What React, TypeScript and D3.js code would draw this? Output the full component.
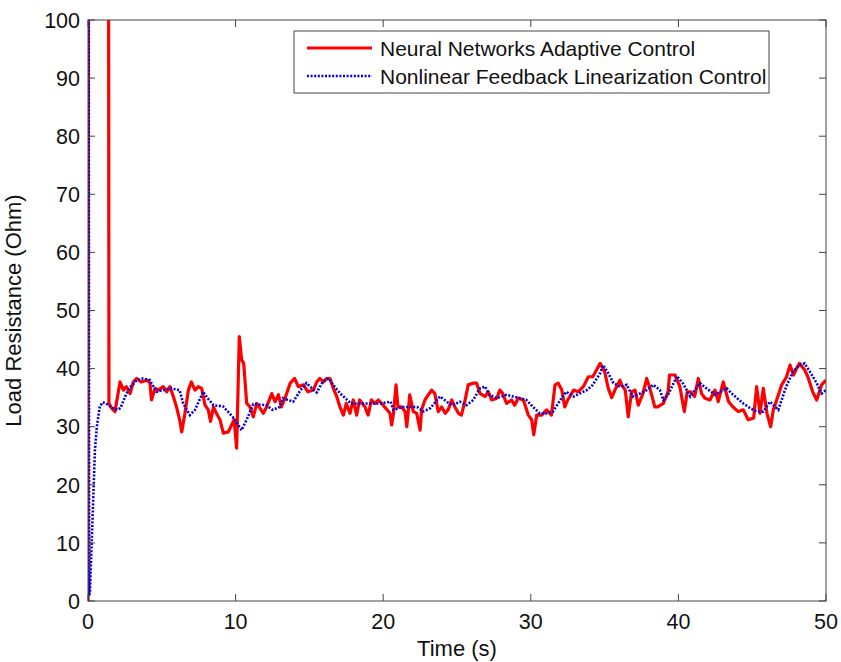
import React, { useMemo } from 'react';
import * as d3 from 'd3';

// Neural Networks Adaptive Control (red, solid)
const nnTime = [
  0, 0.05, 1.38, 1.42, 1.6, 1.83, 2.17, 2.4, 2.6, 2.85, 3.07, 3.3, 3.6, 4.0, 4.2, 4.3, 4.55, 4.77,
  5.1, 5.33, 5.55, 5.78, 6.0, 6.23, 6.35, 6.57, 6.8, 7.0, 7.25, 7.47, 7.7, 7.93, 8.15, 8.3, 8.5,
  8.7, 8.94, 9.17, 9.5, 9.73, 9.9, 10.07, 10.25, 10.41, 10.55, 10.75, 10.98, 11.2, 11.43, 11.65,
  11.88, 12.1, 12.45, 12.67, 12.9, 13.1, 13.35, 13.7, 14.0, 14.25, 14.6, 14.9, 15.26, 15.5, 15.7,
  15.94, 16.17, 16.4, 16.62, 16.85, 17.07, 17.3, 17.5, 17.75, 17.97, 18.2, 18.4, 18.77, 18.98,
  19.2, 19.45, 19.67, 20.0, 20.46, 20.57, 20.7, 20.87, 21.0, 21.25, 21.48, 21.6, 21.8, 22.04,
  22.27, 22.5, 22.6, 22.83, 23.06, 23.28, 23.5, 23.73, 23.96, 24.2, 24.4, 24.64, 24.86, 25.1,
  25.3, 25.5, 25.76, 26.1, 26.33, 26.56, 26.9, 27.12, 27.35, 27.7, 27.9, 28.1, 28.36, 28.7, 28.9,
  29.15, 29.5, 29.83, 30.06, 30.2, 30.4, 30.74, 31.07, 31.4, 31.64, 31.86, 32.1, 32.3, 32.5,
  32.9, 33.2, 33.56, 33.9, 34.2, 34.46, 34.7, 35.0, 35.25, 35.48, 35.7, 36.04, 36.15, 36.4, 36.6,
  36.83, 37.06, 37.28, 37.6, 37.85, 38.07, 38.4, 38.6, 38.98, 39.3, 39.4, 39.77, 40.1, 40.4,
  40.6, 40.83, 41.1, 41.35, 41.57, 41.8, 42.14, 42.48, 42.7, 43.04, 43.4, 43.7, 44.06, 44.4,
  44.73, 45.1, 45.3, 45.53, 45.75, 46.0, 46.25, 46.43, 46.66, 47.0, 47.33, 47.56, 47.8, 48.0,
  48.2, 48.55, 48.77, 49.1, 49.37, 49.7, 50.0,
];
const nnValues = [
  0, 150, 150, 34.0, 33.2, 32.6, 37.7, 36.3, 36.9, 35.7, 37.7, 38.3, 37.7, 38.0, 37.5, 34.6, 36.6,
  36.3, 36.9, 36.0, 36.9, 35.2, 33.4, 30.9, 29.1, 32.3, 36.3, 37.7, 36.3, 36.9, 36.6, 33.7, 32.9,
  30.9, 33.4, 32.3, 31.2, 28.9, 29.1, 30.3, 31.2, 26.3, 45.5, 41.5, 40.9, 34.0, 33.4, 31.7, 34.0,
  33.2, 32.3, 33.4, 35.7, 34.3, 35.5, 33.4, 34.9, 37.5, 38.3, 36.9, 37.2, 36.0, 36.3, 37.7, 38.3,
  37.7, 38.3, 38.3, 36.6, 35.2, 33.4, 32.0, 34.0, 32.3, 34.6, 32.0, 34.6, 33.4, 32.0, 34.6, 34.0,
  34.6, 33.7, 32.3, 30.3, 32.3, 37.2, 33.4, 33.4, 32.6, 30.0, 35.5, 32.6, 32.3, 29.4, 32.9, 34.6,
  35.5, 36.3, 35.7, 32.6, 33.4, 32.3, 32.9, 34.6, 33.4, 32.3, 32.0, 34.0, 37.2, 37.5, 37.5, 35.7,
  35.2, 36.0, 34.6, 34.9, 36.3, 35.7, 34.0, 34.6, 33.7, 34.9, 34.6, 32.0, 31.2, 28.6, 32.0, 32.0,
  32.9, 32.0, 37.2, 37.5, 36.3, 33.4, 34.6, 36.3, 36.0, 36.9, 38.6, 38.6, 39.8, 40.9, 39.5, 36.6,
  35.0, 36.3, 38.0, 37.2, 36.3, 31.7, 36.0, 36.3, 33.7, 35.7, 38.3, 36.6, 33.4, 33.4, 34.0, 36.0,
  38.9, 38.9, 36.9, 32.6, 36.0, 36.0, 35.2, 38.3, 35.7, 34.9, 34.6, 36.3, 34.3, 37.7, 34.3, 33.4,
  32.6, 32.9, 31.2, 31.5, 36.9, 32.3, 36.6, 32.3, 30.0, 32.9, 34.6, 37.2, 38.6, 40.6, 38.9, 40.0,
  40.9, 39.8, 38.6, 36.0, 34.6, 37.2, 38.0,
];

// Nonlinear Feedback Linearization Control (blue, dotted)
const nflTime = [
  0, 0.04, 0.08, 0.13, 0.25, 0.47, 0.6, 0.8, 1.0, 1.2, 1.4, 1.7, 2.0, 2.2, 2.6, 2.9, 3.3, 3.7,
  4.2, 4.3, 4.65, 5.1, 5.6, 6.2, 6.45, 6.9, 7.25, 7.8, 8.1, 8.5, 9.15, 9.8, 10.4, 10.75, 11.2,
  12.1, 12.5, 13.0, 13.2, 13.9, 14.4, 14.8, 15.3, 15.5, 15.9, 16.3, 16.6, 17.1, 17.8, 18.6, 19.8,
  20.5, 20.7, 21.3, 22.3, 22.7, 23.2, 23.85, 24.3, 24.7, 25.2, 25.65, 26.1, 26.55, 26.9, 27.2,
  27.7, 28.36, 28.8, 29.3, 29.7, 30.15, 30.6, 31.07, 31.5, 32.0, 32.4, 32.9, 33.3, 33.8, 34.2,
  34.7, 34.9, 35.25, 35.6, 36.04, 36.5, 36.9, 37.4, 37.85, 38.3, 38.75, 38.98, 39.3, 39.9, 40.3,
  40.8, 41.46, 41.9, 42.5, 43.27, 43.7, 44.4, 44.85, 45.3, 45.75, 46.2, 46.77, 47.3, 47.77, 48.2,
  48.55, 48.9, 49.37, 49.7, 50.0,
];
const nflValues = [
  0, 130, 1, 1.4, 10, 26, 30, 33.5, 34.2, 34.0, 33.7, 33.2, 32.9, 33.2, 35.7, 36.9, 38.0, 38.3,
  38.0, 37.5, 36.0, 36.3, 36.6, 36.3, 34.0, 32.0, 32.9, 36.0, 34.9, 33.7, 33.5, 31.7, 29.4, 31.2,
  33.9, 33.7, 32.9, 33.4, 34.9, 34.3, 36.3, 37.5, 36.3, 35.9, 37.7, 38.3, 37.2, 35.7, 34.0, 34.0,
  34.0, 34.3, 32.9, 33.4, 33.4, 32.6, 33.2, 35.2, 34.3, 33.7, 34.3, 33.7, 34.6, 36.6, 36.9, 35.5,
  34.9, 35.5, 35.2, 34.9, 34.6, 33.4, 32.3, 32.3, 32.6, 34.6, 36.0, 35.2, 35.7, 36.3, 37.2, 39.2,
  40.6, 39.2, 37.5, 36.9, 37.2, 35.2, 35.7, 36.3, 37.2, 36.3, 34.6, 35.5, 38.7, 37.5, 35.2, 37.5,
  36.6, 35.5, 36.6, 35.5, 34.0, 33.2, 32.6, 32.6, 34.3, 32.9, 36.9, 39.5, 40.6, 40.9, 39.5, 37.5,
  35.7, 36.3,
];

const xTicks = [0, 10, 20, 30, 40, 50];
const yTicks = [0, 10, 20, 30, 40, 50, 60, 70, 80, 90, 100];
const seriesNames = ['Neural Networks Adaptive Control', 'Nonlinear Feedback Linearization Control'];

const W = 841;
const H = 662;
const margin = { top: 20, right: 15, bottom: 61, left: 88 };
const FONT = '"Liberation Sans", Arial, sans-serif';

export default function App() {
  const innerW = W - margin.left - margin.right;
  const innerH = H - margin.top - margin.bottom;

  const { x, y, nnPath, nflPath } = useMemo(() => {
    const xs = d3.scaleLinear().domain([0, 50]).range([0, innerW]);
    const ys = d3.scaleLinear().domain([0, 100]).range([innerH, 0]);
    const line = d3
      .line<number>()
      .x((d) => xs(d[0]))
      .y((d) => ys(d[1]));
    const nn = line(nnTime.map((t, i) => [t, nnValues[i]]) as any);
    const nfl = line(nflTime.map((t, i) => [t, nflValues[i]]) as any);
    return { x: xs, y: ys, nnPath: nn, nflPath: nfl };
  }, [innerW, innerH]);

  const tickLen = 7;
  const axisColor = '#444';

  return (
    <svg
      width={W}
      height={H}
      style={{ position: 'absolute', left: 0, top: 0, background: '#fff' }}
      fontFamily={FONT}
    >
      <defs>
        <clipPath id="plot-clip">
          <rect x={0} y={0} width={innerW} height={innerH} />
        </clipPath>
      </defs>
      <g transform={`translate(${margin.left},${margin.top})`}>
        {/* series */}
        <g clipPath="url(#plot-clip)">
          <path d={nnPath || ''} fill="none" stroke="#ff0000" strokeWidth={3.2} strokeLinejoin="round" />
          <path
            d={nflPath || ''}
            fill="none"
            stroke="#0000dd"
            strokeWidth={2.6}
            strokeDasharray="2 1.6"
          />
        </g>

        {/* box */}
        <rect x={0} y={0} width={innerW} height={innerH} fill="none" stroke={axisColor} strokeWidth={1} />

        {/* x ticks */}
        {xTicks.map((t) => (
          <g key={'x' + t}>
            <line x1={x(t)} x2={x(t)} y1={innerH} y2={innerH - tickLen} stroke={axisColor} />
            <line x1={x(t)} x2={x(t)} y1={0} y2={tickLen} stroke={axisColor} />
            <text x={x(t)} y={innerH + 28} textAnchor="middle" fontSize={21.5} fill="#111">
              {t}
            </text>
          </g>
        ))}

        {/* y ticks */}
        {yTicks.map((t) => (
          <g key={'y' + t}>
            <line x1={0} x2={tickLen} y1={y(t)} y2={y(t)} stroke={axisColor} />
            <line x1={innerW} x2={innerW - tickLen} y1={y(t)} y2={y(t)} stroke={axisColor} />
            <text x={-8} y={y(t)} dy="0.36em" textAnchor="end" fontSize={21.5} fill="#111">
              {t}
            </text>
          </g>
        ))}

        {/* axis labels */}
        <text x={innerW / 2} y={innerH + 55} textAnchor="middle" fontSize={22} fill="#111">
          Time (s)
        </text>
        <text
          transform={`translate(${-67},${innerH / 2}) rotate(-90)`}
          textAnchor="middle"
          fontSize={22}
          fill="#111"
        >
          Load Resistance (Ohm)
        </text>

        {/* legend */}
        <g transform={`translate(${294 - margin.left},${31 - margin.top})`}>
          <rect x={0} y={0} width={475} height={62} fill="#fff" stroke={axisColor} strokeWidth={1} />
          <line x1={13} x2={78} y1={17} y2={17} stroke="#ff0000" strokeWidth={3} />
          <line x1={13} x2={78} y1={45} y2={45} stroke="#0000dd" strokeWidth={2.6} strokeDasharray="2 1.6" />
          <text x={86} y={17} dy="0.36em" fontSize={21} fill="#111">
            {seriesNames[0]}
          </text>
          <text x={86} y={45} dy="0.36em" fontSize={21} fill="#111">
            {seriesNames[1]}
          </text>
        </g>
      </g>
    </svg>
  );
}
